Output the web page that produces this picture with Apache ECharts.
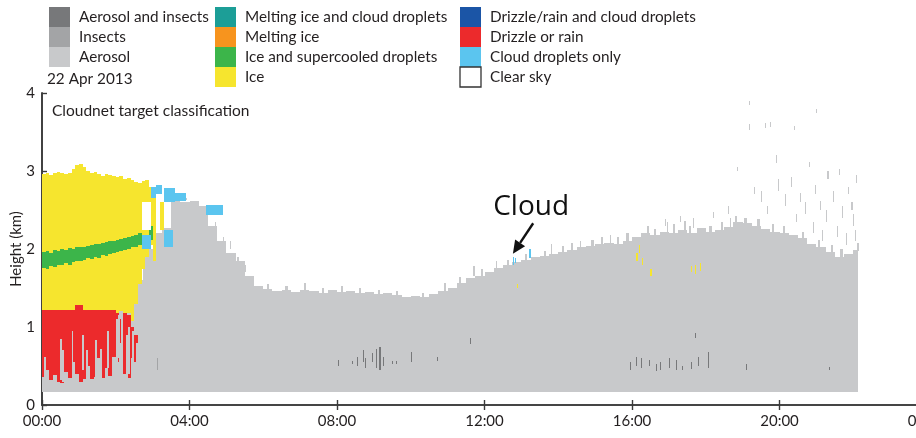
<!DOCTYPE html>
<html>
<head>
<meta charset="utf-8">
<script src="https://cdn.jsdelivr.net/npm/echarts@6/dist/echarts.min.js"></script>
<style>
  html, body { margin: 0; padding: 0; background: #fff; }
  #chart { width: 916px; height: 438px; }
</style>
</head>
<body>
<div id="chart"></div>
<script>
// target classes, in legend order
var classNames = ['Aerosol and insects', 'Insects', 'Aerosol',
  'Melting ice and cloud droplets', 'Melting ice', 'Ice and supercooled droplets', 'Ice',
  'Drizzle/rain and cloud droplets', 'Drizzle or rain', 'Cloud droplets only', 'Clear sky'];
var classColors = ['#77787a', '#a3a4a6', '#c8c9cb',
  '#1c9e97', '#f7941e', '#3cb54a', '#f6e52e',
  '#1b55a6', '#ec2a2c', '#5bc5ef', '#ffffff'];
var legendColumns = [[0, 1, 2], [3, 4, 5, 6], [7, 8, 9, 10]];

var dateLabel = '22 Apr 2013';
var panelTitle = 'Cloudnet target classification';

// aerosol layer, columns of 0.25 h starting at 00:00 (km)
var aerosolStep = 0.25, aerosolBase = 0.17, aerosolEnd = 22.13;
var aerosolTop = [
  1.2, 1.2, 1.2, 1.2, 1.2, 1.2, 1.2, 1.2, 1.2, 1.2,
  1.6, 2.0, 2.2, 2.4, 2.62, 2.6, 2.62, 2.55, 2.3, 2.1,
  1.95, 1.85, 1.66, 1.52, 1.49, 1.46, 1.48, 1.45, 1.47, 1.46,
  1.44, 1.47, 1.45, 1.46, 1.43, 1.45, 1.42, 1.44, 1.41, 1.39,
  1.40, 1.38, 1.42, 1.46, 1.50, 1.57, 1.63, 1.66, 1.70, 1.76,
  1.79, 1.83, 1.86, 1.90, 1.91, 1.94, 1.96, 1.99, 2.02, 2.04,
  2.06, 2.08, 2.07, 2.10, 2.16, 2.20, 2.18, 2.22, 2.21, 2.24,
  2.20, 2.27, 2.22, 2.25, 2.28, 2.34, 2.33, 2.30, 2.26, 2.22,
  2.20, 2.18, 2.14, 2.07, 2.02, 1.96, 1.90, 1.93, 1.99
];

// morning precipitating cloud, columns of 0.1 h starting at 00:00 (km, 0 = none)
var mixStep = 0.1;
var iceBase = [
  1.2, 1.2, 1.2, 1.2, 1.2, 1.2, 1.2, 1.2, 1.2, 1.2,
  1.2, 1.2, 1.2, 1.2, 1.2, 1.2, 1.2, 1.2, 1.2, 1.2,
  1.15, 1.2, 1.12, 1.18, 1.08, 1.3, 1.55, 1.75, 1.9, 2.05,
  1.85, 0, 2.25, 0, 0
];
var iceTop = [
  2.96, 2.98, 2.95, 2.97, 2.99, 2.97, 2.96, 2.98, 3.03, 3.08,
  3.09, 3.05, 3.00, 2.98, 2.99, 2.96, 2.94, 2.96, 2.95, 2.93,
  2.92, 2.93, 2.90, 2.91, 2.88, 2.86, 2.85, 2.87, 2.88, 2.80,
  2.75, 0, 2.6, 0, 0
];
var mixedBase = [
  1.76, 1.74, 1.78, 1.77, 1.80, 1.79, 1.82, 1.80, 1.83, 1.85,
  1.84, 1.86, 1.88, 1.87, 1.90, 1.89, 1.92, 1.91, 1.94, 1.95,
  1.96, 1.98, 1.99, 2.00, 2.02, 2.03, 2.05, 0, 0, 2.12,
  0, 0, 0, 0, 0
];
var mixedTop = [
  1.96, 1.97, 1.95, 1.99, 1.98, 2.00, 1.99, 2.01, 2.00, 2.02,
  2.03, 2.02, 2.04, 2.05, 2.06, 2.07, 2.08, 2.09, 2.10, 2.10,
  2.12, 2.13, 2.14, 2.16, 2.17, 2.18, 2.20, 0, 0, 2.30,
  0, 0, 0, 0, 0
];
var drizzleBase = [
  0.36, 0.45, 0.32, 0.38, 0.30, 0.28, 0.42, 0.35, 0.55, 0.40,
  0.30, 0.33, 0.50, 0.33, 0.36, 0.60, 0.35, 0.48, 0.37, 0.62,
  0.55, 0.80, 0.40, 0.35, 0.60, 0.55, 0, 0, 0, 0,
  0, 0, 0, 0, 0
];
var drizzleTop = [
  1.22, 1.22, 1.22, 1.22, 1.22, 1.22, 1.22, 1.22, 1.22, 1.28,
  1.28, 1.22, 1.22, 1.22, 1.22, 1.22, 1.22, 1.22, 1.22, 1.22,
  1.18, 1.10, 1.18, 1.15, 1.00, 0.90, 0, 0, 0, 0,
  0, 0, 0, 0, 0
];

// patches [start h, end h, base km, top km]
var dropletPatches = [[2.7, 2.95, 2.0, 2.18], [2.95, 3.1, 2.65, 2.8], [3.1, 3.25, 2.7, 2.82],
  [3.3, 3.55, 2.02, 2.25], [3.3, 3.6, 2.6, 2.78], [3.6, 3.9, 2.62, 2.72], [4.45, 4.9, 2.44, 2.56]];
var clearPatches = [[2.7, 2.95, 2.25, 2.6], [3.3, 3.5, 2.27, 2.55]];

// single range-gate streaks [h, base km, top km]
var drizzleGaps = [[0.05, 0.36, 0.62], [0.5, 0.32, 0.85], [0.55, 0.3, 0.7], [0.8, 0.35, 0.95],
  [1.08, 0.45, 0.9], [1.2, 0.5, 0.7], [1.44, 0.36, 0.83], [1.57, 0.35, 0.72], [1.76, 0.48, 0.95],
  [2.02, 0.5, 1.1], [2.07, 0.6, 1.15], [2.14, 0.8, 1.1], [2.27, 0.35, 0.9], [2.33, 0.4, 1.0],
  [2.45, 0.5, 0.95], [2.55, 0.5, 0.8]];
var aerosolSpecks = [[19.17, 3.85, 3.9], [21.0, 3.74, 3.8], [19.18, 3.53, 3.6], [19.6, 3.55, 3.62],
  [19.75, 3.57, 3.63], [20.4, 3.52, 3.58], [18.84, 3.0, 3.05], [19.9, 3.1, 3.2], [20.8, 3.05, 3.12],
  [21.3, 2.9, 3.0], [21.6, 2.95, 3.02], [22.08, 2.85, 2.95], [19.3, 2.7, 2.8], [19.5, 2.6, 2.75],
  [19.95, 2.75, 2.9], [20.15, 2.55, 2.7], [20.3, 2.8, 2.92], [20.55, 2.6, 2.72], [20.7, 2.45, 2.6],
  [20.95, 2.7, 2.82], [21.1, 2.5, 2.62], [21.25, 2.35, 2.5], [21.45, 2.6, 2.75], [21.7, 2.4, 2.55],
  [21.85, 2.7, 2.8], [22.0, 2.3, 2.45], [21.95, 2.5, 2.6], [20.45, 2.35, 2.45], [19.65, 2.45, 2.55],
  [18.6, 2.45, 2.55], [18.2, 2.4, 2.48], [17.3, 2.35, 2.42], [16.9, 2.3, 2.38], [21.55, 2.15, 2.3],
  [21.8, 2.05, 2.2], [22.05, 2.1, 2.25], [20.9, 2.2, 2.35], [21.15, 2.1, 2.25],
  [4.3, 2.3, 2.45], [4.7, 2.2, 2.35], [4.9, 1.95, 2.15], [5.1, 2.0, 2.1], [5.3, 1.75, 1.9],
  [5.5, 1.7, 1.8], [3.9, 2.63, 2.66], [11.7, 1.66, 1.78], [13.8, 1.94, 2.06], [15.4, 2.07, 2.18],
  [16.95, 2.21, 2.35], [17.65, 2.27, 2.4], [18.65, 2.28, 2.4], [12.3, 1.76, 1.84], [14.6, 2.02, 2.1]];
// short spikes along the top of the aerosol layer [h, base km, top km]
var aerosolSpikes = [[6.1, 1.45, 1.55], [6.6, 1.44, 1.52], [7.1, 1.45, 1.56], [7.6, 1.42, 1.5],
  [8.1, 1.43, 1.53], [8.6, 1.41, 1.5], [9.1, 1.4, 1.48], [9.6, 1.38, 1.46], [10.3, 1.36, 1.44],
  [10.9, 1.44, 1.56], [11.3, 1.55, 1.64], [11.9, 1.64, 1.74], [12.6, 1.77, 1.86], [13.1, 1.84, 1.93],
  [13.6, 1.89, 1.98], [14.1, 1.94, 2.04], [14.35, 1.97, 2.08], [14.9, 2.02, 2.12], [15.15, 2.04, 2.16],
  [15.6, 2.05, 2.15], [15.85, 2.08, 2.2], [16.4, 2.16, 2.3], [16.6, 2.16, 2.26], [17.1, 2.19, 2.32],
  [17.4, 2.22, 2.36], [17.55, 2.18, 2.3], [18.1, 2.2, 2.3], [18.4, 2.23, 2.35], [18.8, 2.32, 2.42],
  [19.05, 2.3, 2.4], [19.4, 2.28, 2.38], [19.8, 2.2, 2.32], [20.1, 2.18, 2.3], [20.6, 2.12, 2.22],
  [21.05, 2.0, 2.12], [21.4, 1.94, 2.05], [21.65, 1.88, 2.0], [22.1, 1.97, 2.08]];
var insectSpecks = [[3.12, 0.45, 0.6]];
var aerosolInsectSpecks = [[8.02, 0.5, 0.58], [8.4, 0.52, 0.56], [8.55, 0.5, 0.62], [8.7, 0.55, 0.7],
  [8.75, 0.48, 0.6], [8.95, 0.55, 0.67], [9.05, 0.48, 0.72], [9.15, 0.45, 0.75], [9.25, 0.5, 0.62],
  [9.5, 0.52, 0.57], [9.6, 0.52, 0.57], [10.0, 0.55, 0.68], [10.7, 0.56, 0.62], [11.6, 0.78, 0.86],
  [15.95, 0.45, 0.55], [16.1, 0.5, 0.62], [16.25, 0.47, 0.6], [16.45, 0.5, 0.58], [16.65, 0.44, 0.52],
  [16.75, 0.45, 0.55], [17.0, 0.48, 0.6], [17.2, 0.45, 0.58], [17.35, 0.45, 0.5], [17.6, 0.46, 0.55],
  [17.7, 0.86, 0.92], [17.8, 0.5, 0.62], [18.05, 0.48, 0.68], [19.1, 0.45, 0.53], [21.35, 0.45, 0.49]];
var iceSpecks = [[16.12, 1.85, 1.95], [16.2, 1.95, 2.05], [16.28, 1.8, 1.88], [16.5, 1.65, 1.75],
  [17.6, 1.7, 1.78], [17.7, 1.68, 1.8], [17.85, 1.72, 1.82], [12.87, 1.5, 1.55]];
var dropletSpecks = [[12.76, 1.8, 1.9], [12.82, 1.82, 1.88], [13.22, 1.88, 2.0]];

// annotation: arrow [h, km]
var cloudNote = 'Cloud';
var arrowFrom = [13.32, 2.33], arrowTo = [12.77, 1.94];

var speckWidth = 0.03, gapWidth = 0.05, spikeWidth = 0.06;

function columns(step, base, top, end) {
  var out = [];
  for (var i = 0; i < top.length; i++) {
    if (!top[i]) continue;
    var b = Array.isArray(base) ? base[i] : base;
    var t0 = i * step, t1 = t0 + step;
    if (end && t1 > end) t1 = end;
    out.push([t0, t1, b, top[i]]);
  }
  return out;
}
function specks(list, w) {
  return list.map(function (s) { return [s[0], s[0] + w, s[1], s[2]]; });
}

// cells snapped to whole pixels so neighbouring columns join without seams
function renderCell(params, api) {
  var p0 = api.coord([api.value(0), api.value(3)]);
  var p1 = api.coord([api.value(1), api.value(2)]);
  var x0 = Math.round(p0[0]), x1 = Math.max(Math.round(p1[0]), x0 + 1);
  var y0 = Math.round(p0[1]), y1 = Math.max(Math.round(p1[1]), y0 + 1);
  return {
    type: 'rect',
    shape: { x: x0, y: y0, width: x1 - x0, height: y1 - y0 },
    style: { fill: api.visual('color') }
  };
}

var layers = [
  [2, columns(aerosolStep, aerosolBase, aerosolTop, aerosolEnd)],
  [2, specks(aerosolSpikes, spikeWidth)],
  [6, columns(mixStep, iceBase, iceTop)],
  [5, columns(mixStep, mixedBase, mixedTop)],
  [8, columns(mixStep, drizzleBase, drizzleTop)],
  [2, specks(drizzleGaps, gapWidth)],
  [9, dropletPatches],
  [10, clearPatches],
  [2, specks(aerosolSpecks, speckWidth)],
  [1, specks(insectSpecks, speckWidth)],
  [0, specks(aerosolInsectSpecks, speckWidth)],
  [6, specks(iceSpecks, speckWidth)],
  [9, specks(dropletSpecks, speckWidth)]
];

var series = layers.map(function (l) {
  return {
    type: 'custom',
    name: classNames[l[0]],
    renderItem: renderCell,
    itemStyle: { color: classColors[l[0]] },
    encode: { x: [0, 1], y: [2, 3] },
    clip: true,
    silent: true,
    data: l[1]
  };
});

var textColor = '#231f20';
var font = 'Lato, "Noto Sans", sans-serif';

// legend drawn as three columns of touching boxes
var graphics = [];
var colX = [49, 215, 460];
legendColumns.forEach(function (col, ci) {
  col.forEach(function (k, ri) {
    var y = 7 + ri * 20;
    graphics.push({
      type: 'rect', x: colX[ci], y: y,
      shape: { width: 21, height: 20 },
      style: k === 10 ? { fill: '#fff', stroke: '#333', lineWidth: 1.3 } : { fill: classColors[k] }
    });
    graphics.push({
      type: 'text', x: colX[ci] + 30, y: y + 10,
      style: { text: classNames[k], font: '15.3px ' + font, fill: textColor, verticalAlign: 'middle' }
    });
  });
});
graphics.push({
  type: 'text', x: 47, y: 79,
  style: { text: dateLabel, font: '15.3px ' + font, fill: textColor, verticalAlign: 'middle' }
});
graphics.push({
  type: 'text', x: 52, y: 111,
  style: { text: panelTitle, font: '15.5px ' + font, fill: textColor, verticalAlign: 'middle' }
});

function hourLabel(v) {
  var h = v % 24;
  return (h < 10 ? '0' : '') + h + ':00';
}

var axisLine = { show: true, lineStyle: { color: '#3a3a3a', width: 1.6 } };
var tick = { inside: true, length: 5, lineStyle: { color: '#3a3a3a', width: 1.4 } };
var chart = echarts.init(document.getElementById('chart'));
chart.setOption({
  animation: false,
  backgroundColor: '#fff',
  grid: { left: 42, top: 93, right: -11, bottom: 33, containLabel: false, outerBoundsMode: 'none' },
  xAxis: [{
    type: 'value', min: 0, max: 24, interval: 4, position: 'bottom',
    axisLine: axisLine, axisTick: tick,
    axisLabel: { formatter: hourLabel, color: textColor, fontSize: 15, fontFamily: font, margin: 9 },
    splitLine: { show: false }
  }, {
    type: 'value', min: 0, max: 24, interval: 4, position: 'top',
    axisLine: axisLine, axisTick: tick,
    axisLabel: { show: false },
    splitLine: { show: false }
  }],
  yAxis: [{
    type: 'value', min: 0, max: 4, interval: 1, position: 'left',
    name: 'Height (km)', nameLocation: 'middle', nameRotate: 90, nameGap: 18,
    nameMoveOverlap: false,
    nameTextStyle: { color: textColor, fontSize: 15, fontFamily: font },
    axisLine: axisLine, axisTick: tick,
    axisLabel: { color: textColor, fontSize: 15, fontFamily: font, margin: 7 },
    splitLine: { show: false }
  }, {
    type: 'value', min: 0, max: 4, interval: 1, position: 'right',
    axisLine: axisLine, axisTick: { show: false }, axisLabel: { show: false },
    splitLine: { show: false }
  }],
  series: series
});

// "Cloud" annotation with arrow, placed through the axes
var a0 = chart.convertToPixel({ gridIndex: 0 }, arrowFrom);
var a1 = chart.convertToPixel({ gridIndex: 0 }, arrowTo);
var dx = a1[0] - a0[0], dy = a1[1] - a0[1];
var len = Math.sqrt(dx * dx + dy * dy), ux = dx / len, uy = dy / len;
var headLen = 13, headHalf = 6;
var hb = [a1[0] - ux * headLen, a1[1] - uy * headLen];
graphics.push({
  type: 'line',
  shape: { x1: a0[0], y1: a0[1], x2: hb[0], y2: hb[1] },
  style: { stroke: '#111', lineWidth: 2.4 }
});
graphics.push({
  type: 'polygon',
  shape: { points: [a1, [hb[0] - uy * headHalf, hb[1] + ux * headHalf], [hb[0] + uy * headHalf, hb[1] - ux * headHalf]] },
  style: { fill: '#111' }
});
graphics.push({
  type: 'text', x: a0[0] - 40, y: a0[1] - 16,
  style: { text: cloudNote, font: '28px "Open Sans", sans-serif', fill: '#111', verticalAlign: 'middle' }
});
chart.setOption({ graphic: graphics });
</script>
</body>
</html>
